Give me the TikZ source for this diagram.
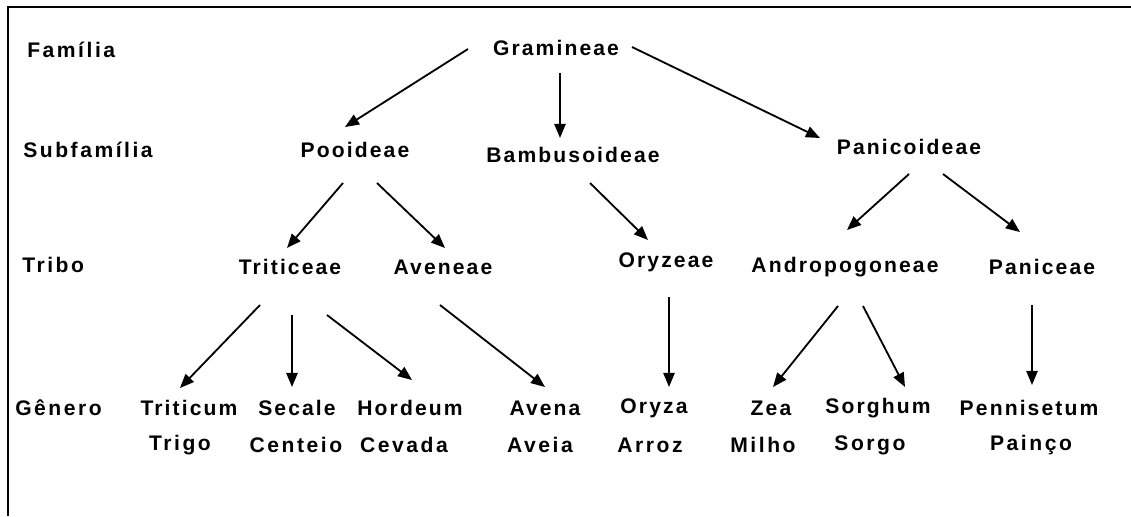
\documentclass[tikz,border=0pt]{standalone}
\usepackage{fontspec}
\setmainfont{Liberation Sans}
\newfontfamily\taxonfont[LetterSpace=10]{Liberation Sans}
\newfontfamily\spacedfont[LetterSpace=12]{Liberation Sans}
\usetikzlibrary{arrows.meta}

\begin{document}
\begin{tikzpicture}[x=0.025cm, y=-0.025cm,
    taxon/.style={font=\taxonfont\fontsize{15}{17}\selectfont\bfseries, inner sep=0pt},
    rank/.style={font=\spacedfont\fontsize{15}{17}\selectfont\bfseries, anchor=west, inner sep=0pt},
    common/.style={font=\spacedfont\fontsize{15}{17}\selectfont\bfseries, inner sep=0pt},
    link/.style={-{Triangle[length=10pt,width=8pt]}, line width=1.3pt}]
        \useasboundingbox (0,0) rectangle (1131,516);
        \draw[line width=2pt] (1131,7) -- (8,7) -- (8,516);

        \node[rank] (familia) at (27,50) {Família};
        \node[rank] (subfamilia) at (23,150) {Subfamília};
        \node[rank] (tribo) at (22,265) {Tribo};
        \node[rank] (genero) at (15,408) {Gênero};

        \node[taxon] (gram) at (556,48) {Gramineae};
        \node[taxon] (pooi) at (355,150) {Pooideae};
        \node[taxon] (bamb) at (573,155) {Bambusoideae};
        \node[taxon] (pani) at (909,147) {Panicoideae};

        \node[taxon] (trit) at (290,267) {Triticeae};
        \node[taxon] (aven) at (443,267) {Aveneae};
        \node[taxon] (oryz) at (666,262) {Oryzeae};
        \node[taxon] (andr) at (845,267) {Andropogoneae};
        \node[taxon] (panc) at (1042,267) {Paniceae};

        \foreach \x/\xc/\gen/\com/\nm in {189/180/Triticum/Trigo/triticum, 297/296/Secale/Centeio/secale,
            410/404/Hordeum/Cevada/hordeum, 545/540/Avena/Aveia/avena, 654/650/Oryza/Arroz/oryza,
            771/763/Zea/Milho/zea, 878/870/Sorghum/Sorgo/sorghum, 1029/1031/Pennisetum/Painço/pennisetum} {
            \node[taxon] (\nm) at (\x,408) {\gen};
            \node[common] (\nm-pt) at (\xc,445) {\com};
        }

        \draw[link] ([shift={(-88,1)}]gram.center) -- ([shift={(-10,-23)}]pooi.center);
        \draw[link] ([shift={(4,25)}]gram.center) -- ([shift={(-13,-17)}]bamb.center);
        \draw[link] ([shift={(76,-1)}]gram.center) -- ([shift={(-89,-9)}]pani.center);

        \draw[link] ([shift={(-12,33)}]pooi.center) -- ([shift={(-3,-19)}]trit.center);
        \draw[link] ([shift={(22,33)}]pooi.center) -- ([shift={(2,-19)}]aven.center);
        \draw[link] ([shift={(17,28)}]bamb.center) -- ([shift={(-18,-22)}]oryz.center);
        \draw[link] ([shift={(0,27)}]pani.center) -- ([shift={(2,-37)}]andr.center);
        \draw[link] ([shift={(34,27)}]pani.center) -- ([shift={(-22,-35)}]panc.center);

        \draw[link] ([shift={(-30,38)}]trit.center) -- ([shift={(-9,-20)}]triticum.center);
        \draw[link] ([shift={(2,48)}]trit.center) -- ([shift={(-5,-21)}]secale.center);
        \draw[link] ([shift={(37,48)}]trit.center) -- ([shift={(2,-28)}]hordeum.center);
        \draw[link] ([shift={(-3,38)}]aven.center) -- ([shift={(0,-21)}]avena.center);
        \draw[link] ([shift={(3,35)}]oryz.center) -- ([shift={(15,-21)}]oryza.center);
        \draw[link] ([shift={(-7,39)}]andr.center) -- ([shift={(2,-21)}]zea.center);
        \draw[link] ([shift={(18,39)}]andr.center) -- ([shift={(27,-21)}]sorghum.center);
        \draw[link] ([shift={(-10,38)}]panc.center) -- ([shift={(3,-23)}]pennisetum.center);
\end{tikzpicture}
\end{document}
